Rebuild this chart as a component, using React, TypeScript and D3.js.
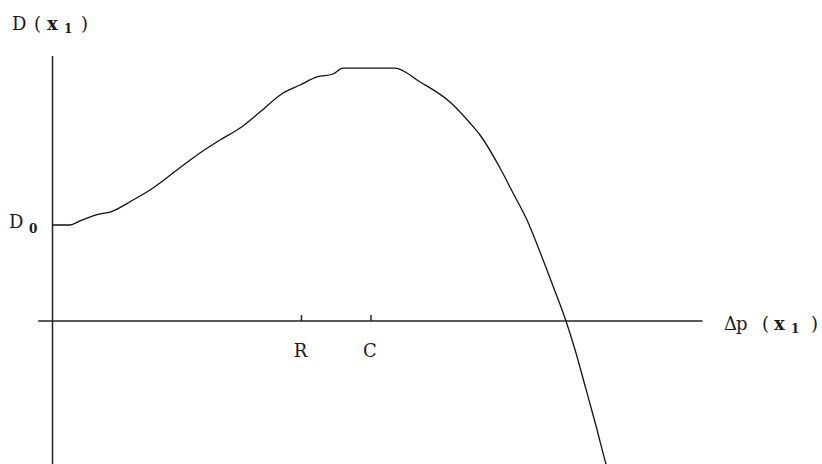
import React from "react";
import * as d3 from "d3";

const curveX = [0, 2.69, 4.23, 7.31, 8.85, 12.38, 15.0, 19.15, 22.69, 25.77, 28.85, 31.92, 35.46, 38.08, 40.69, 43.15, 44.69, 52.69, 56.54, 61.15, 64.23, 65.77, 68.85, 70.85, 73.0, 75.0, 77.0, 79.0, 80.4, 81.9, 83.46, 85.15, 85.6];
const curveY = [1.0, 1.0, 1.042, 1.115, 1.135, 1.26, 1.365, 1.573, 1.75, 1.885, 2.01, 2.177, 2.375, 2.458, 2.542, 2.573, 2.635, 2.635, 2.49, 2.281, 2.0625, 1.9375, 1.594, 1.333, 1.052, 0.719, 0.365, 0, -0.302, -0.667, -1.052, -1.49, -1.6];
const tickValues = [38.3, 49.0];
const tickLabels = ["R", "C"];
const d0Value = 1;

const W = 822;
const H = 464;

export default function App() {
  const x = d3.scaleLinear().domain([0, 100]).range([52.5, 702.5]);
  const y = d3.scaleLinear().domain([-1.5, 2.75]).range([465, 57]);
  const pts: [number, number][] = curveX.map((v, i) => [v, curveY[i]]);
  const line = d3
    .line<[number, number]>()
    .x((d) => x(d[0]))
    .y((d) => y(d[1]))
    .curve(d3.curveMonotoneX);
  const axisColor = "#222";
  const font = "'DejaVu Serif', serif";
  const fs = 18;
  const sub = 12;
  const textColor = "#1a1a1a";
  return (
    <svg
      width={W}
      height={H}
      style={{ position: "absolute", left: 0, top: 0, display: "block", background: "#fff" }}
    >
      <rect x={0} y={0} width={W} height={H} fill="#fff" />
      {/* axes */}
      <line x1={x(-2.2)} x2={x(100)} y1={y(0)} y2={y(0)} stroke={axisColor} strokeWidth={1.5} />
      <line x1={x(0)} x2={x(0)} y1={y(2.76)} y2={H} stroke={axisColor} strokeWidth={1.5} />
      {tickValues.map((t, i) => (
        <g key={i}>
          <line x1={x(t)} x2={x(t)} y1={y(0)} y2={y(0) - 6} stroke={axisColor} strokeWidth={1.5} />
          <text x={x(t) - 1} y={357} textAnchor="middle" fontFamily={font} fontSize={fs} fill={textColor}>
            {tickLabels[i]}
          </text>
        </g>
      ))}
      {/* curve */}
      <path d={line(pts) || ""} fill="none" stroke="#111" strokeWidth={1.3} />
      {/* y label */}
      <g fontFamily={font} fill={textColor}>
        <text x={12} y={30} fontSize={fs}>D</text>
        <text x={34} y={30} fontSize={fs}>(</text>
        <text x={47} y={30} fontSize={fs} fontWeight="bold">x</text>
        <text x={64} y={33} fontSize={sub} fontWeight="bold">1</text>
        <text x={81} y={30} fontSize={fs}>)</text>
      </g>
      {/* D0 label */}
      <g fontFamily={font} fill={textColor}>
        <text x={9} y={y(d0Value) + 3} fontSize={fs}>D</text>
        <text x={29} y={y(d0Value) + 8} fontSize={sub} fontWeight="bold">0</text>
      </g>
      {/* x label */}
      <g fontFamily={font} fill={textColor}>
        <text x={724} y={330} fontSize={fs}>Δ</text>
        <text x={736} y={330} fontSize={fs}>p</text>
        <text x={762} y={330} fontSize={fs}>(</text>
        <text x={774} y={330} fontSize={fs} fontWeight="bold">x</text>
        <text x={791} y={333} fontSize={sub} fontWeight="bold">1</text>
        <text x={811} y={330} fontSize={fs}>)</text>
      </g>
    </svg>
  );
}
